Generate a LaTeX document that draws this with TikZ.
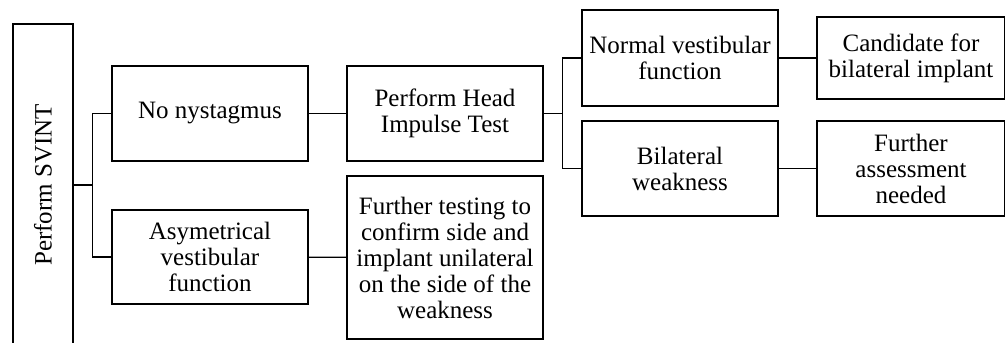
\documentclass[tikz,border=0pt]{standalone}
\usepackage{fontspec}
\setmainfont{Liberation Serif}
\begin{document}
\begin{tikzpicture}[x=1pt, y=-1pt,
    box/.style={draw, line width=1.4pt, align=center, inner sep=2pt,
        minimum width=196pt, minimum height=95pt,
        font=\fontsize{25}{26}\selectfont},
    link/.style={line width=1.4pt}]
    \useasboundingbox (0,0) rectangle (1005,343);

    % --- root ---
    \node[box, rotate=90, minimum width=322pt, minimum height=60pt] (svint) at (43,185) {Perform SVINT};

    % --- first level ---
    \node[box] (nyst) at (210,113.5) {No nystagmus};
    \node[box, minimum height=94pt] (asym) at (210,257) {Asymetrical\\vestibular\\function};

    % --- second level ---
    \node[box] (hit) at (445,113.5) {Perform Head\\Impulse Test};
    \node[box, minimum height=163pt] (furth) at (445,257.5) {Further testing to\\confirm side and\\implant unilateral\\on the side of the\\weakness};

    % --- third level ---
    \node[box, minimum height=96pt] (normal) at (680,58) {Normal vestibular\\function};
    \node[box] (bilat) at (680,168.5) {Bilateral\\weakness};

    % --- outcomes ---
    \node[box, minimum width=188pt, minimum height=82pt] (cand) at (911,58) {Candidate for\\bilateral implant};
    \node[box, minimum width=188pt] (assess) at (911,168.5) {Further\\assessment\\needed};

    % --- connectors ---
    \draw[link] (svint.south) -- ++(19,0) coordinate (fork1);
    \draw[link] (fork1) |- (nyst.west);
    \draw[link] (fork1) |- (asym.west);
    \draw[link] (nyst) -- (hit);
    \draw[link] (asym) -- (furth);
    \draw[link] (hit.east) -- ++(19,0) coordinate (fork2);
    \draw[link] (fork2) |- (normal.west);
    \draw[link] (fork2) |- (bilat.west);
    \draw[link] (normal) -- (cand);
    \draw[link] (bilat) -- (assess);
\end{tikzpicture}
\end{document}
